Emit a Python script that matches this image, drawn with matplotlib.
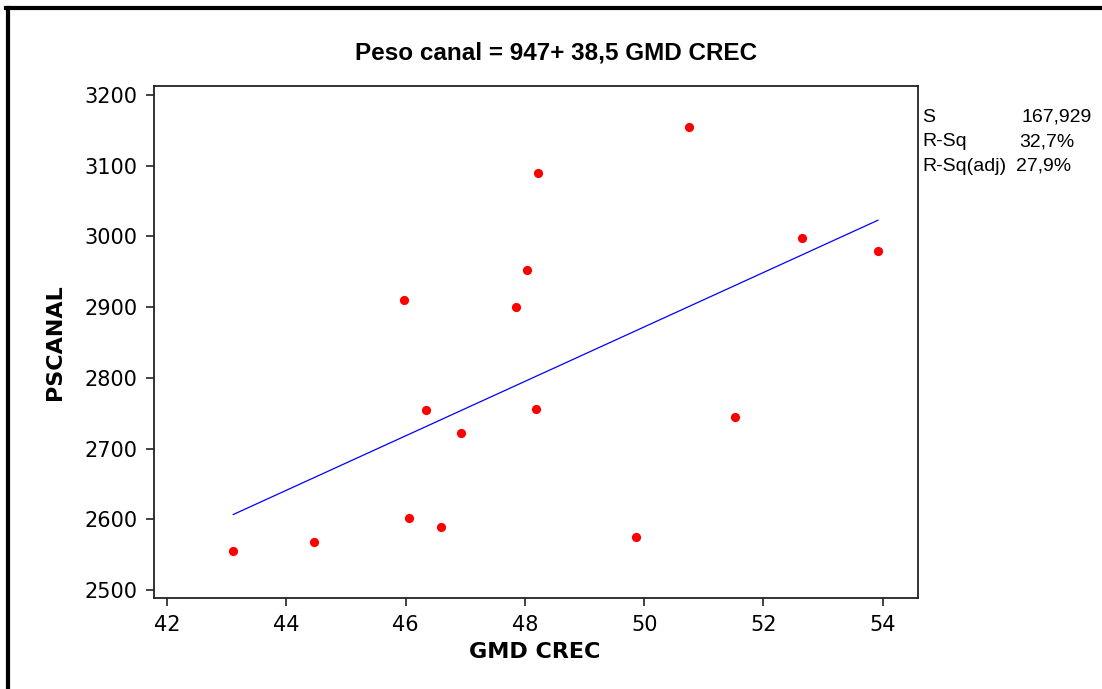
import matplotlib.pyplot as plt
import numpy as np
from matplotlib.lines import Line2D

# datos
gmd = [43.11, 44.46, 45.97, 46.06, 46.34, 46.59, 46.93, 47.85,
       48.03, 48.22, 48.18, 49.86, 50.75, 51.52, 52.64, 53.92]
pscanal = [2555, 2568, 2910, 2602, 2754, 2589, 2722, 2900,
           2952, 3090, 2756, 2575, 3155, 2745, 2998, 2979]
intercept = 947
slope = 38.5
stat_names = ['S', 'R-Sq', 'R-Sq(adj)']
stat_values = ['167,929', '32,7%', '27,9%']
x_ticks = [42, 44, 46, 48, 50, 52, 54]
y_ticks = [2500, 2600, 2700, 2800, 2900, 3000, 3100, 3200]

fig = plt.figure(figsize=(11.02, 6.89), dpi=100)
ax = fig.add_axes([0.1397, 0.1321, 0.6933, 0.7431])

ax.scatter(gmd, pscanal, s=44, color='#ff0000', zorder=3, linewidths=0)
xl = np.array([min(gmd), max(gmd)])
ax.plot(xl, intercept + slope * xl, color='#0000ff', linewidth=0.9)

ax.set_xlim(41.78, 54.59)
ax.set_ylim(2488.7, 3212.7)
ax.set_xticks(x_ticks)
ax.set_yticks(y_ticks)
ax.tick_params(direction='out', length=6, width=1.2, labelsize=15, pad=6, color='#222222')
for s in ax.spines.values():
    s.set_linewidth(1.3)
    s.set_color('#222222')

fig.text(0.0499, 0.504, 'PSCANAL', rotation=90, ha='center', va='center',
         fontsize=16, fontweight='bold')
fig.text(0.4855, 0.054, 'GMD CREC', ha='center', va='center',
         fontsize=16, fontweight='bold')
fig.text(0.5045, 0.923, 'Peso canal = 947+ 38,5 GMD CREC', ha='center', va='center',
         fontsize=17.5, fontweight='bold', family='Liberation Sans')

ys = [0.830, 0.794, 0.759]
xv = [0.9265, 0.9245, 0.922]
for n, v, y, x in zip(stat_names, stat_values, ys, xv):
    fig.text(0.8367, y, n, ha='left', va='center', fontsize=14, family='Liberation Sans')
    fig.text(x, y, v, ha='left', va='center', fontsize=14, family='Liberation Sans')

# marco exterior
fig.add_artist(Line2D([0.0072, 0.0072], [0.0, 0.9884], color='black', linewidth=3,
                      transform=fig.transFigure))
fig.add_artist(Line2D([0.0054, 1.0], [0.9884, 0.9884], color='black', linewidth=3,
                      transform=fig.transFigure))

fig.savefig('out.png', dpi=100)
